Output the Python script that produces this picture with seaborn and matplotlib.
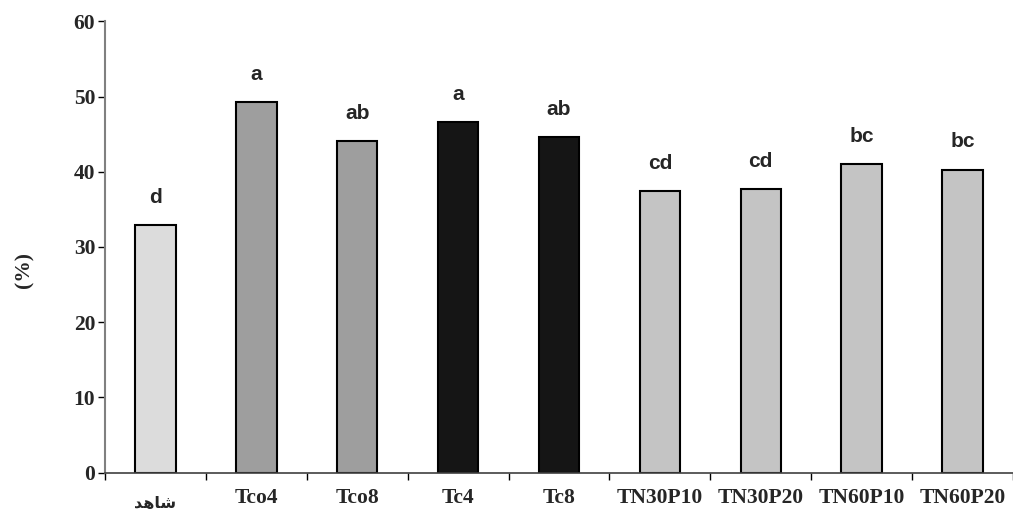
import seaborn as sns
import matplotlib.pyplot as plt
import matplotlib.transforms as mtransforms
import pandas as pd

# values
# Arabic label "shahed" (control) written in presentation forms, visual order
treatments = ['\uFEAA\uFEEB\uFE8E\uFEB7', 'Tco4', 'Tco8', 'Tc4', 'Tc8',
              'TN30P10', 'TN30P20', 'TN60P10', 'TN60P20']
percent = [32.9, 49.3, 44.1, 46.6, 44.6, 37.4, 37.7, 41.0, 40.3]
letters = ['d', 'a', 'ab', 'a', 'ab', 'cd', 'cd', 'bc', 'bc']
bar_colors = ['#dcdcdc', '#9e9e9e', '#9e9e9e', '#151515', '#151515',
              '#c4c4c4', '#c4c4c4', '#c4c4c4', '#c4c4c4']

df = pd.DataFrame({'treatment': treatments, 'percent': percent})

sns.set_style('white')
plt.rcParams['font.family'] = ['Liberation Serif', 'DejaVu Sans']

fig = plt.figure(figsize=(10.13, 5.16), dpi=100)
ax = fig.add_axes([105 / 1013, 1 - 472.7 / 516, 1 - 105 / 1013, (472.7 - 21.3) / 516])

sns.barplot(data=df, x='treatment', y='percent', hue='treatment',
            palette=bar_colors, width=0.4, edgecolor='black', linewidth=1.5,
            legend=False, ax=ax)

for i, (v, lab) in enumerate(zip(percent, letters)):
    ax.annotate(lab, (i, v), xytext=(0, 16), textcoords='offset points',
                ha='center', va='baseline', fontsize=15, fontweight='bold',
                family='Liberation Sans')

ax.set_ylim(0, 60)
ax.set_yticks(range(0, 61, 10))
ax.set_xlim(-0.5, 8.43)
ax.set_xticks([x + 0.5 for x in range(-1, 9)], minor=True)
ax.tick_params(axis='x', which='major', bottom=True, length=0, pad=11)
ax.tick_params(axis='x', which='minor', bottom=True, length=5, width=1,
               color='black', direction='out')
ax.tick_params(axis='y', left=True, length=5, width=1, color='black',
               direction='out', pad=2)

for lab in ax.get_xticklabels() + ax.get_yticklabels():
    lab.set_fontweight('bold')
    lab.set_fontsize(15.5)
# the Arabic control label is drawn smaller (and a bit lower) in the original
ar = ax.get_xticklabels()[0]
ar.set_fontsize(11.5)
ar.set_transform(ar.get_transform() +
                 mtransforms.ScaledTranslation(0, -6 / 72, fig.dpi_scale_trans))

ax.set_xlabel('')
ax.set_ylabel('(%)', fontsize=15.5, fontweight='bold')
ax.yaxis.set_label_coords(-0.078, 0.45)

sns.despine(ax=ax, top=True, right=True)
ax.spines['left'].set_color('#808080')
ax.spines['left'].set_linewidth(1.5)
ax.spines['bottom'].set_color('#404040')
ax.spines['bottom'].set_linewidth(1.2)

fig.savefig('out.png', dpi=100)
